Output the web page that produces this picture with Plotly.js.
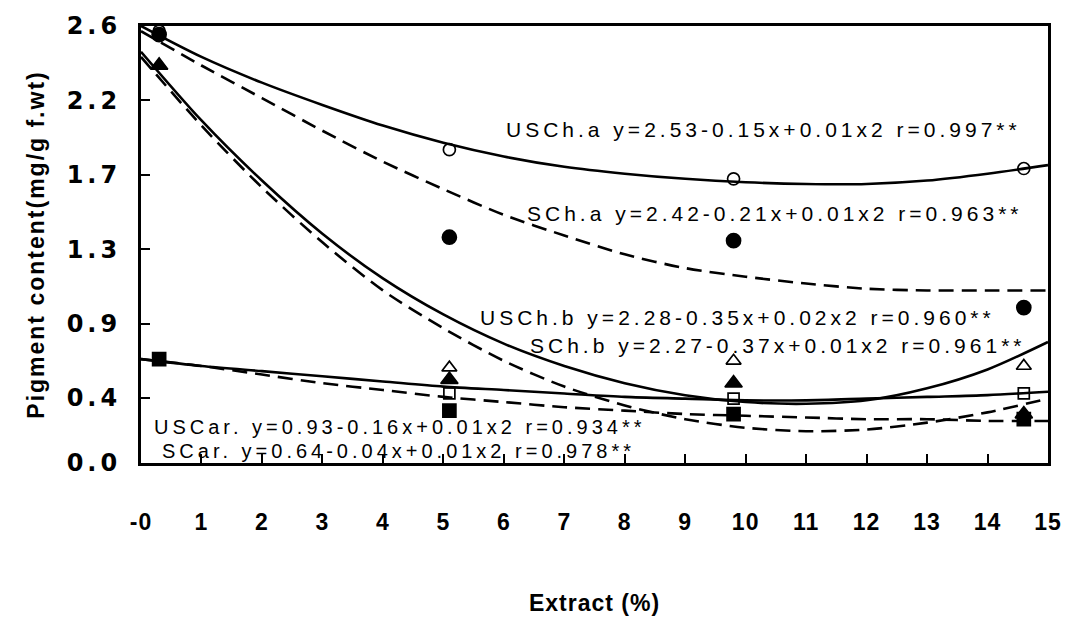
<!DOCTYPE html>
<html>
<head>
<meta charset="utf-8">
<script src="https://cdn.plot.ly/plotly-3.0.1.min.js"></script>
<style>
  html, body { margin: 0; padding: 0; background: #fff; }
  #chart { width: 1075px; height: 624px; }
  .annotation-text { letter-spacing: 4px; }
  .ytick text { letter-spacing: 4px; }
  .xtick text { letter-spacing: 1px; }
  .g-ytitle text { letter-spacing: 2px; }
  .g-xtitle text { letter-spacing: 1px; }
</style>
</head>
<body>
<div id="chart"></div>
<script>
// Measured samples (extract %, pigment content mg/g f.wt)
const sampleX = [0.3, 5.1, 9.8, 14.6];
const usChA = [2.57, 1.88, 1.71, 1.77];
const sChA  = [2.55, 1.37, 1.35, 0.96];
const usChB = [2.37, 0.61, 0.65, 0.62];
const sChB  = [2.37, 0.54, 0.52, 0.34];
const usCar = [0.66, 0.46, 0.43, 0.46];
const sCar  = [0.66, 0.36, 0.34, 0.31];

// Fitted curves
const fitX     = [0, 1, 2, 3, 4, 5, 6, 7, 8, 9, 10, 11, 12, 13, 14, 15];
const usChAFit = [2.60, 2.42, 2.27, 2.14, 2.02, 1.92, 1.84, 1.78, 1.74, 1.71, 1.69, 1.68, 1.68, 1.70, 1.74, 1.79];
const sChAFit  = [2.57, 2.37, 2.18, 1.99, 1.81, 1.65, 1.50, 1.38, 1.27, 1.19, 1.14, 1.10, 1.07, 1.06, 1.06, 1.06];
const usChBFit = [2.45, 2.05, 1.70, 1.39, 1.13, 0.92, 0.75, 0.62, 0.52, 0.45, 0.41, 0.40, 0.42, 0.49, 0.60, 0.76];
const sChBFit  = [2.42, 2.02, 1.66, 1.34, 1.06, 0.84, 0.65, 0.50, 0.39, 0.31, 0.26, 0.24, 0.25, 0.29, 0.35, 0.43];
const usCarFit = [0.66, 0.62, 0.59, 0.56, 0.53, 0.50, 0.48, 0.46, 0.44, 0.43, 0.42, 0.42, 0.43, 0.44, 0.45, 0.47];
const sCarFit  = [0.66, 0.62, 0.57, 0.52, 0.48, 0.44, 0.41, 0.38, 0.36, 0.34, 0.33, 0.32, 0.31, 0.31, 0.30, 0.30];

// Axis ticks (the scanned axis puts its "0.0" mark at the bottom frame)
const xTickValues = [0, 1, 2, 3, 4, 5, 6, 7, 8, 9, 10, 11, 12, 13, 14, 15];
const xTickLabels = ['-0', '1', '2', '3', '4', '5', '6', '7', '8', '9', '10', '11', '12', '13', '14', '15'];
const yTickValues = [0.055, 0.4333, 0.8667, 1.3, 1.7333, 2.1667, 2.6];
const yTickLabels = ['0.0', '0.4', '0.9', '1.3', '1.7', '2.2', '2.6'];

// Equation labels
const eqLabels = [
  'USCh.a y=2.53-0.15x+0.01x2 r=0.997**',
  'SCh.a y=2.42-0.21x+0.01x2 r=0.963**',
  'USCh.b y=2.28-0.35x+0.02x2 r=0.960**',
  'SCh.b y=2.27-0.37x+0.01x2 r=0.961**',
  'USCar. y=0.93-0.16x+0.01x2 r=0.934**',
  'SCar. y=0.64-0.04x+0.01x2 r=0.978**'
];
const eqPosX = [0.400, 0.423, 0.372, 0.427, 0.012, 0.021];
const eqPosY = [0.764, 0.572, 0.332, 0.270, 0.082, 0.027];
const eqSize = [21, 21, 21, 21, 20, 20];

function fitTrace(y, dashed) {
  return { x: fitX, y: y, type: 'scatter', mode: 'lines', hoverinfo: 'skip',
    line: { color: '#000', width: 2.6, shape: 'spline', smoothing: 0.8, dash: dashed ? '15px,8px' : 'solid' } };
}
function pointTrace(y, symbol, size) {
  return { x: sampleX, y: y, type: 'scatter', mode: 'markers',
    marker: { symbol: symbol, size: size, color: '#000', line: { color: '#000', width: 1.7 } } };
}

const data = [
  fitTrace(usChAFit, false),
  fitTrace(sChAFit, true),
  fitTrace(usChBFit, false),
  fitTrace(sChBFit, true),
  fitTrace(usCarFit, false),
  fitTrace(sCarFit, true),
  pointTrace(usCar, 'square-open', 11),
  pointTrace(sCar, 'square', 13),
  pointTrace(usChB, 'triangle-up-open', 13),
  pointTrace(sChB, 'triangle-up', 15),
  pointTrace(usChA, 'circle-open', 12),
  pointTrace(sChA, 'circle', 14)
];

const annotations = eqLabels.map((t, i) => ({
  text: t, xref: 'paper', yref: 'paper', x: eqPosX[i], y: eqPosY[i],
  xanchor: 'left', yanchor: 'middle', showarrow: false,
  font: { family: 'Liberation Sans, Arial, sans-serif', size: eqSize[i], color: '#000' }
}));

const layout = {
  width: 1075, height: 624,
  margin: { l: 141, r: 27, t: 26, b: 161 },
  paper_bgcolor: '#fff', plot_bgcolor: '#fff',
  showlegend: false,
  font: { family: 'Liberation Sans, Arial, sans-serif', color: '#000' },
  xaxis: {
    range: [0, 15], tickmode: 'array', tickvals: xTickValues, ticktext: xTickLabels,
    ticks: 'inside', ticklen: 9, tickwidth: 2, tickcolor: '#000',
    showline: true, linewidth: 3, linecolor: '#000', mirror: true,
    showgrid: false, zeroline: false, ticklabelstandoff: 36,
    tickfont: { family: 'Liberation Sans, Arial, sans-serif', size: 23, color: '#000', weight: 'bold' },
    title: { text: 'Extract (%)', standoff: 62,
      font: { family: 'Liberation Sans, Arial, sans-serif', size: 23, color: '#000', weight: 'bold' } }
  },
  yaxis: {
    range: [0.055, 2.6], tickmode: 'array', tickvals: yTickValues, ticktext: yTickLabels,
    ticks: 'inside', ticklen: 9, tickwidth: 2, tickcolor: '#000',
    showline: true, linewidth: 3, linecolor: '#000', mirror: true,
    showgrid: false, zeroline: false, ticklabelstandoff: 12,
    tickfont: { family: 'DejaVu Sans, sans-serif', size: 24, color: '#000', weight: 'bold' },
    title: { text: 'Pigment content(mg/g f.wt)', standoff: 16,
      font: { family: 'Liberation Sans, Arial, sans-serif', size: 23, color: '#000', weight: 'bold' } }
  },
  annotations: annotations
};

Plotly.newPlot('chart', data, layout, { displayModeBar: false, staticPlot: true });
</script>
</body>
</html>
